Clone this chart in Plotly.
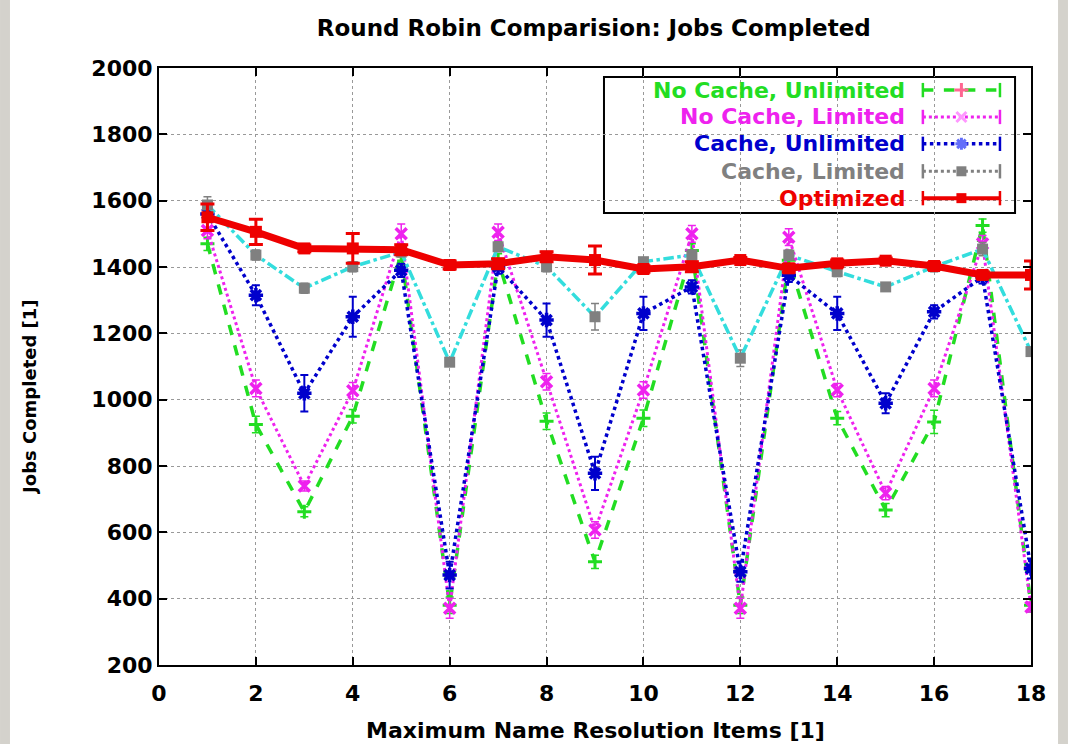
import plotly.graph_objects as go

# ---------------- data ----------------
items = list(range(1, 19))
no_cache_unlimited = [1470, 925, 662, 950, 1440, 380, 1420, 935, 511, 944, 1450, 380, 1420, 944, 667, 933, 1525, 380]
no_cache_limited = [1510, 1034, 740, 1027, 1500, 371, 1505, 1054, 607, 1029, 1500, 371, 1490, 1029, 718, 1034, 1470, 375]
cache_unlimited = [1560, 1315, 1019, 1250, 1390, 471, 1400, 1240, 778, 1260, 1340, 481, 1375, 1260, 989, 1265, 1370, 491]
cache_limited = [1587, 1436, 1336, 1401, 1445, 1113, 1461, 1401, 1250, 1416, 1436, 1125, 1436, 1386, 1340, 1401, 1454, 1145]
optimized = [1550, 1506, 1456, 1456, 1452, 1406, 1410, 1431, 1421, 1394, 1401, 1421, 1396, 1411, 1419, 1403, 1376, 1376]

err_green = [20, 25, 15, 20, 20, 25, 20, 25, 20, 25, 20, 25, 20, 20, 20, 35, 20, 20]
err_pink = [25, 25, 15, 25, 30, 30, 25, 25, 25, 25, 25, 30, 25, 20, 20, 25, 25, 15]
err_blue = [20, 30, 55, 60, 20, 40, 20, 50, 50, 50, 20, 30, 20, 50, 30, 20, 20, 30]
err_gray = [25, 15, 15, 15, 15, 10, 15, 15, 40, 10, 15, 25, 15, 15, 10, 15, 20, 10]
err_red = [40, 38, 10, 45, 15, 12, 15, 15, 42, 10, 15, 8, 12, 10, 8, 10, 10, 42]

legend_names = ["No Cache, Unlimited", "No Cache, Limited", "Cache, Unlimited", "Cache, Limited", "Optimized"]
x_ticks = [0, 2, 4, 6, 8, 10, 12, 14, 16, 18]
y_ticks = [200, 400, 600, 800, 1000, 1200, 1400, 1600, 1800, 2000]

GREEN = "#22dd22"
PINK = "#ee22ee"
BLUE = "#0000cc"
GRAY = "#808080"
CYAN = "#33dddd"
RED = "#ee0000"
FONT = "DejaVu Sans"

fig = go.Figure()

def err(vals, color, w=1.5, width=4):
    return dict(type="data", array=vals, visible=True, color=color, thickness=w, width=width)

fig.add_trace(go.Scatter(x=items, y=no_cache_unlimited, mode="lines+markers",
                         line=dict(color=GREEN, width=3.5, dash="dash"),
                         marker=dict(symbol="cross-thin-open", size=10, line=dict(color=GREEN, width=3)),
                         error_y=err(err_green, GREEN), showlegend=False))
fig.add_trace(go.Scatter(x=items, y=no_cache_limited, mode="lines+markers",
                         line=dict(color=PINK, width=3, dash="dot"),
                         marker=dict(symbol="x-thin-open", size=11, line=dict(color=PINK, width=3.5)),
                         error_y=err(err_pink, PINK), showlegend=False))
fig.add_trace(go.Scatter(x=items, y=cache_unlimited, mode="lines+markers",
                         line=dict(color=BLUE, width=3.5, dash="dot"),
                         marker=dict(symbol="asterisk-open", size=12, line=dict(color=BLUE, width=3.5)),
                         error_y=err(err_blue, BLUE, 2), showlegend=False))
fig.add_trace(go.Scatter(x=items, y=cache_limited, mode="lines+markers",
                         line=dict(color=CYAN, width=3.5, dash="dashdot"),
                         marker=dict(symbol="square", size=11, color=GRAY),
                         error_y=err(err_gray, GRAY), showlegend=False))
fig.add_trace(go.Scatter(x=items, y=optimized, mode="lines+markers",
                         line=dict(color=RED, width=7),
                         marker=dict(symbol="square", size=12, color=RED),
                         error_y=err(err_red, RED, 3, 7), showlegend=False))

# ---------------- custom legend (text on the left, sample on the right) ----------------
row_y = [0.963, 0.918, 0.873, 0.827, 0.782]
styles = [
    (GREEN, "dash", "cross-thin-open", GREEN, 3.5),
    (PINK, "dot", "x-thin-open", PINK, 3),
    (BLUE, "dot", "asterisk-open", BLUE, 3.5),
    (GRAY, "dot", "square", GRAY, 3),
    (RED, "solid", "square", RED, 4),
]
lx0, lx1 = 0.876, 0.9644
for name, yy, (lc, dash, sym, mc, lw) in zip(legend_names, row_y, styles):
    fig.add_annotation(x=0.858, y=yy, xref="paper", yref="paper", text=name,
                       showarrow=False, xanchor="right", yanchor="middle",
                       font=dict(family=FONT, size=22, color=lc, weight="bold"))
    open_sym = sym.endswith("open")
    fig.add_trace(go.Scatter(x=[lx0, (lx0 + lx1) / 2, lx1], y=[yy, yy, yy], xaxis="x2", yaxis="y2",
                             mode="lines", line=dict(color=lc, width=lw, dash=dash),
                             showlegend=False, hoverinfo="skip"))
    fig.add_trace(go.Scatter(x=[(lx0 + lx1) / 2], y=[yy], xaxis="x2", yaxis="y2", mode="markers",
                             marker=dict(symbol=sym, size=10,
                                         color=mc if not open_sym else None,
                                         line=dict(color=mc, width=3 if open_sym else 0)),
                             showlegend=False, hoverinfo="skip"))
    for ex in (lx0, lx1):
        fig.add_shape(type="line", xref="paper", yref="paper", x0=ex, x1=ex, y0=yy - 0.012, y1=yy + 0.012,
                      line=dict(color=lc, width=2.5))

fig.add_shape(type="rect", xref="paper", yref="paper", x0=0.5103, x1=0.9817, y0=0.757, y1=0.985,
              line=dict(color="black", width=2), fillcolor="white", layer="below")

# axis titles as annotations (fixed positions like the original)
fig.add_annotation(x=-0.148, y=0.449, xref="paper", yref="paper", text="Jobs Completed [1]",
                   textangle=-90, showarrow=False, xanchor="center", yanchor="middle",
                   font=dict(family=FONT, size=18, color="black", weight="bold"))
fig.add_annotation(x=0.5, y=-0.109, xref="paper", yref="paper", text="Maximum Name Resolution Items [1]",
                   showarrow=False, xanchor="center", yanchor="middle",
                   font=dict(family=FONT, size=22, color="black", weight="bold"))

# textured side strips of the page
fig.add_shape(type="rect", xref="paper", yref="paper", x0=-0.1823, x1=-0.1709, y0=-0.2, y1=1.2,
              line=dict(width=0), fillcolor="#d4d2cc", layer="below")
fig.add_shape(type="rect", xref="paper", yref="paper", x0=1.031, x1=1.0424, y0=-0.2, y1=1.2,
              line=dict(width=0), fillcolor="#d4d2cc", layer="below")

axis_common = dict(showline=True, linecolor="black", linewidth=2, mirror="ticks",
                   ticks="inside", ticklen=8, tickwidth=2, tickcolor="black",
                   showgrid=True, gridcolor="#999999", griddash="dot", gridwidth=1,
                   zeroline=False, automargin=False,
                   tickfont=dict(family=FONT, size=22, color="black", weight="bold"))

fig.update_layout(
    width=1068, height=744,
    margin=dict(l=159, r=37, t=68, b=79),
    paper_bgcolor="white", plot_bgcolor="white",
    title=dict(text="Round Robin Comparision: Jobs Completed", x=0.556, xanchor="center",
               y=0.962, yanchor="middle", font=dict(family=FONT, size=23, color="black", weight="bold")),
    xaxis=dict(range=[0, 18], tickvals=x_ticks, ticklabelstandoff=8, **axis_common),
    yaxis=dict(range=[200, 2000], tickvals=y_ticks, **axis_common),
    xaxis2=dict(range=[0, 1], overlaying="x", visible=False, domain=[0, 1]),
    yaxis2=dict(range=[0, 1], overlaying="y", visible=False, domain=[0, 1]),
    showlegend=False,
)

fig.write_html("out.html", config={"displayModeBar": False},
               post_script="document.body.style.margin='0px';")
